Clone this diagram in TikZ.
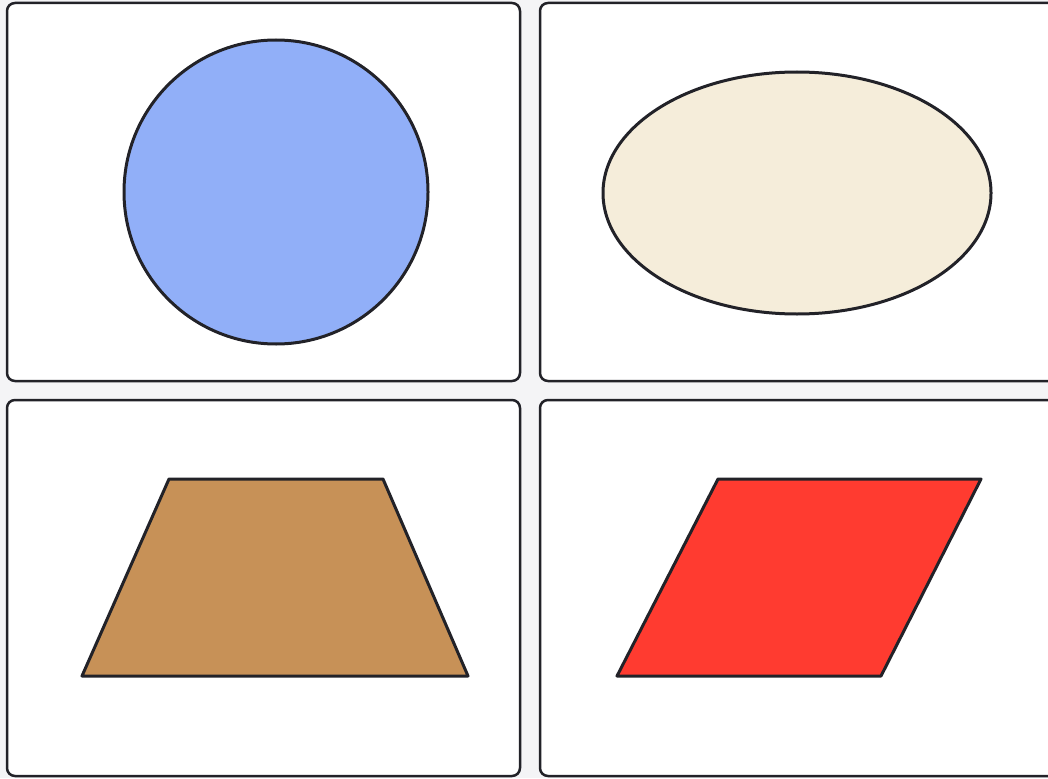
\documentclass[tikz,border=0pt]{standalone}
\usepackage{xcolor}
\usepackage{tikz}
\usetikzlibrary{positioning,shapes.geometric,calc}
\definecolor{pageback}{HTML}{F4F4F6}
\definecolor{inkdark}{HTML}{222228}
\definecolor{circblue}{RGB}{145,175,248}
\definecolor{ovalcream}{RGB}{245,237,218}
\definecolor{trapbrown}{RGB}{199,145,87}
\definecolor{parared}{RGB}{255,59,48}

\begin{document}
\begin{tikzpicture}[x=1pt,y=-1pt,
  panel/.style={draw=inkdark,fill=white,line width=2.5pt,rounded corners=8pt},
  figshape/.style={draw=inkdark,line width=3pt,line join=round}
]
% page
\fill[pageback] (0,0) rectangle (1048,778);
\useasboundingbox (0,0) rectangle (1048,778);
% four panels
\draw[panel] (7,3)   rectangle (520,381);
\draw[panel] (540,3) rectangle (1064,381);
\draw[panel] (7,400) rectangle (520,776);
\draw[panel] (540,400) rectangle (1064,776);
% shapes
\draw[figshape,fill=circblue]  (276,192) circle[radius=152];
\draw[figshape,fill=ovalcream] (797,193) ellipse[x radius=194,y radius=121];
\draw[figshape,fill=trapbrown] (169,479) -- (383,479) -- (468,676) -- (82,676) -- cycle;
\draw[figshape,fill=parared]   (718,479) -- (981,479) -- (881,676) -- (617,676) -- cycle;
\end{tikzpicture}
\end{document}
